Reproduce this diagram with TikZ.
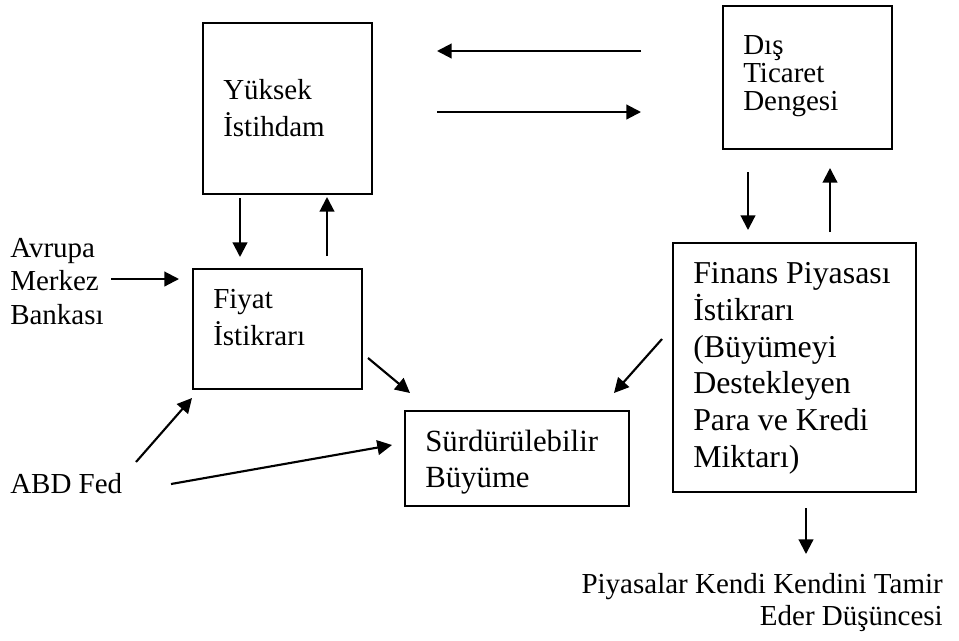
\documentclass[tikz,border=0pt]{standalone}
\usepackage{fontspec}
\setmainfont{Liberation Serif}
\usetikzlibrary{arrows.meta,calc,positioning}

\tikzset{
  box/.style={draw, line width=1.5pt, inner sep=0pt},
  lbl/.style={inner sep=0pt, anchor=base west, align=left, font=\fontsize{21.75}{27.5}\selectfont},
  arr/.style={-{Triangle[length=11pt,width=11pt]}, line width=1.6pt}
}

\begin{document}
\begin{tikzpicture}[x=0.75pt, y=-0.75pt]
  \useasboundingbox[fill=white] (0,0) rectangle (959,640);
  % boxes
  \node[box, minimum width=126.75pt, minimum height=128.25pt] (yuksek) at (287.5,108.5) {};
  \node[box, minimum width=126.75pt, minimum height=107.25pt] (dis) at (807.5,77.5) {};
  \node[box, minimum width=126.75pt, minimum height=90pt] (fiyat) at (277.5,329) {};
  \node[box, minimum width=168pt, minimum height=71.25pt] (surd) at (517,458.5) {};
  \node[box, minimum width=182.25pt, minimum height=186.75pt] (finans) at (794.5,367.5) {};
  % texts (base = last line)
  \node[lbl] (yuksekT) at (223,136.5) {Yüksek\\İstihdam};
  \node[lbl, font=\fontsize{21.75}{20.8}\selectfont] (disT) at (743,110) {Dış\\Ticaret\\Dengesi};
  \node[lbl] (fiyatT) at (213,345) {Fiyat\\İstikrarı};
  \node[lbl, font=\fontsize{23.1}{27}\selectfont] (surdT) at (425,487) {Sürdürülebilir\\Büyüme};
  \node[lbl, font=\fontsize{23.9}{27.5}\selectfont] (finansT) at (693,467) {Finans Piyasası\\İstikrarı\\(Büyümeyi\\Destekleyen\\Para ve Kredi\\Miktarı)};
  \node[lbl, font=\fontsize{21.75}{25.1}\selectfont] (avrupa) at (10,324) {Avrupa\\Merkez\\Bankası};
  \node[lbl] (abd) at (10,493) {ABD Fed};
  \node[lbl, anchor=base east, align=right, font=\fontsize{21.75}{24}\selectfont] (piyasa) at (943,625) {Piyasalar Kendi Kendini Tamir\\Eder Düşüncesi};
  % arrows
  \draw[arr] ($(dis.north west)+(-81,46)$) -- ($(yuksek.north east)+(64,29)$);
  \draw[arr] ($(yuksek.north east)+(64,90)$) -- ($(dis.north west)+(-81,107)$);
  \draw[arr] ($(yuksek.south west)+(38,3)$) -- ($(fiyat.north west)+(48,-11)$);
  \draw[arr] ($(fiyat.north west)+(135,-12)$) -- ($(yuksek.south west)+(125,2)$);
  \draw[arr] ($(fiyat.north west)+(-81,11)$) -- ($(fiyat.north west)+(-13,11)$);
  \draw[arr] ($(fiyat.south west)+(-56,72)$) -- ($(fiyat.south west)+(0,8)$);
  \draw[arr] ($(surd.south west)+(-233,-23)$) -- ($(surd.north west)+(-12,35)$);
  \draw[arr] ($(fiyat.south east)+(5,-32)$) -- ($(surd.north west)+(6,-17)$);
  \draw[arr] ($(finans.north west)+(-10,97)$) -- ($(surd.north east)+(-16,-17)$);
  \draw[arr] ($(dis.south west)+(26,22)$) -- ($(finans.north west)+(76,-12)$);
  \draw[arr] ($(finans.north west)+(158,-10)$) -- ($(dis.south west)+(108,18)$);
  \draw[arr] ($(finans.south west)+(134,15)$) -- ($(finans.south west)+(134,61)$);
\end{tikzpicture}
\end{document}
